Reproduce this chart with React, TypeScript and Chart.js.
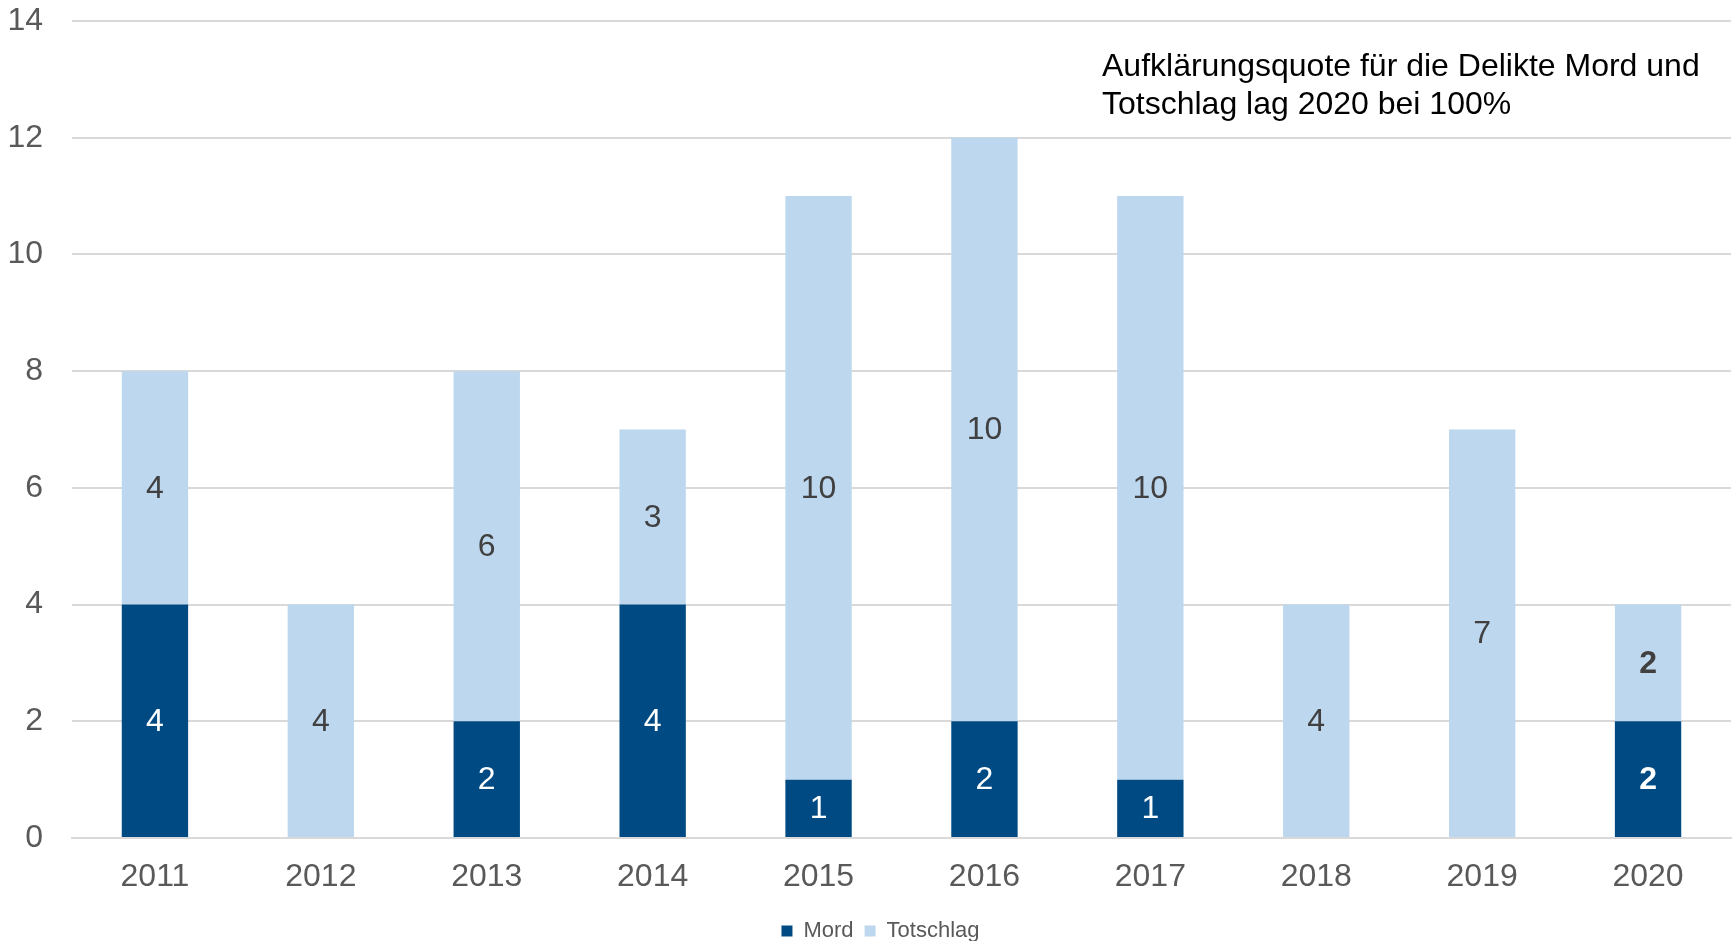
import React, { useEffect, useRef } from "react";
import { Chart, registerables } from "chart.js";

Chart.register(...registerables);

const years = ["2011", "2012", "2013", "2014", "2015", "2016", "2017", "2018", "2019", "2020"];
const mord = [4, 0, 2, 4, 1, 2, 1, 0, 0, 2];
const totschlag = [4, 4, 6, 3, 10, 10, 10, 4, 7, 2];
const boldYears = ["2020"];
const noteLines = ["Aufklärungsquote für die Delikte Mord und", "Totschlag lag 2020 bei 100%"];

const FONT = "'Liberation Sans', Arial, sans-serif";

const labelPlugin = {
  id: "stackLabels",
  afterDatasetsDraw(chart: any) {
    const ctx = chart.ctx;
    ctx.save();
    ctx.textAlign = "center";
    ctx.textBaseline = "middle";
    chart.data.datasets.forEach((ds: any, di: number) => {
      const meta = chart.getDatasetMeta(di);
      meta.data.forEach((bar: any, i: number) => {
        const v = ds.data[i];
        if (!v) return;
        const bold = boldYears.includes(chart.data.labels[i]);
        ctx.font = `${bold ? "bold " : ""}32px ${FONT}`;
        ctx.fillStyle = di === 0 ? "#FFFFFF" : "#404040";
        const yc = (bar.y + bar.base) / 2;
        ctx.fillText(String(v), bar.x, yc + 1);
      });
    });
    ctx.restore();
  },
};

const notePlugin = {
  id: "note",
  afterDraw(chart: any) {
    const ctx = chart.ctx;
    const a = chart.chartArea;
    ctx.save();
    ctx.font = `32px ${FONT}`;
    ctx.fillStyle = "#000000";
    ctx.textAlign = "left";
    ctx.textBaseline = "middle";
    noteLines.forEach((t, i) => {
      ctx.fillText(t, a.left + 1030, a.top + 46 + i * 38);
    });
    ctx.restore();
  },
};

const legendShiftPlugin = {
  id: "legendShift",
  afterLayout(chart: any) {
    if (chart.legend) {
      chart.legend.left += 15;
      chart.legend.right += 15;
    }
  },
};

export default function App() {
  const ref = useRef<HTMLCanvasElement>(null);
  useEffect(() => {
    document.body.style.margin = "0";
    const chart = new Chart(ref.current!, {
      type: "bar",
      data: {
        labels: years,
        datasets: [
          { label: "Mord", data: mord, backgroundColor: "#004A84", barPercentage: 0.4, categoryPercentage: 1 },
          { label: "Totschlag", data: totschlag, backgroundColor: "#BDD7EE", barPercentage: 0.4, categoryPercentage: 1 },
        ],
      },
      options: {
        animation: false,
        responsive: false,
        layout: { padding: { top: 21, right: 3, left: 0, bottom: -11 } },
        plugins: {
          legend: {
            position: "bottom",
            labels: {
              boxWidth: 11,
              boxHeight: 11,
              padding: 11,
              color: "#595959",
              font: { family: FONT, size: 22 },
            },
          },
          tooltip: { enabled: false },
        },
        scales: {
          x: {
            stacked: true,
            afterFit: (s: any) => { s.height = 71; },
            grid: { display: false, drawTicks: false },
            border: { display: true, color: "#D9D9D9", width: 2 },
            ticks: { color: "#595959", padding: 20, font: { family: FONT, size: 32 } },
          },
          y: {
            stacked: true,
            min: 0,
            max: 14,
            afterFit: (s: any) => {
              s.width = 72;
              s.paddingTop = 0;
              s.paddingBottom = 0;
            },
            grid: { color: "#D9D9D9", lineWidth: 2, drawTicks: false },
            border: { display: false },
            ticks: { stepSize: 2, color: "#595959", padding: 29, font: { family: FONT, size: 32 } },
          },
        },
      },
      plugins: [labelPlugin, notePlugin, legendShiftPlugin],
    });
    return () => chart.destroy();
  }, []);
  return (
    <div style={{ position: "absolute", left: 0, top: 0, width: 1734, height: 941 }}>
      <canvas ref={ref} width={1734} height={941} />
    </div>
  );
}
